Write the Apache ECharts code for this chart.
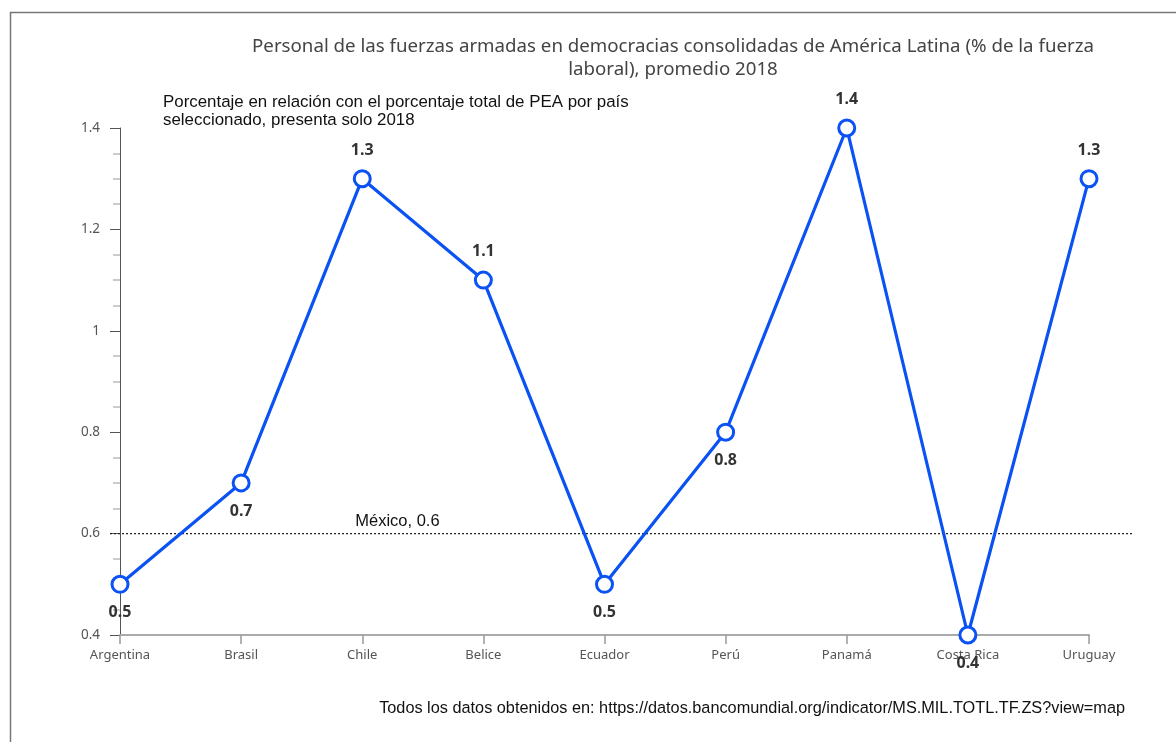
<!DOCTYPE html>
<html>
<head>
<meta charset="utf-8">
<script src="https://cdn.jsdelivr.net/npm/echarts@6/dist/echarts.min.js"></script>
<style>
  html, body { margin: 0; padding: 0; background: #fff; }
  #chart { width: 1176px; height: 742px; }
</style>
</head>
<body>
<div id="chart"></div>
<script>
// Personal militar como % de la fuerza laboral, 2018
const countries = ['Argentina', 'Brasil', 'Chile', 'Belice', 'Ecuador', 'Perú', 'Panamá', 'Costa Rica', 'Uruguay'];
const values = [0.5, 0.7, 1.3, 1.1, 0.5, 0.8, 1.4, 0.4, 1.3];
const labelSide = ['bottom', 'bottom', 'top', 'top', 'bottom', 'bottom', 'top', 'bottom', 'top'];
const mexicoValue = 0.6;
const mexicoLabel = 'México, 0.6';
const yTicks = { min: 0.4, max: 1.4, step: 0.2 };

const titleText = 'Personal de las fuerzas armadas en democracias consolidadas de América Latina (% de la fuerza\nlaboral), promedio 2018';
const noteText = 'Porcentaje en relación con el porcentaje total de PEA por país\nseleccionado, presenta solo 2018';
const sourceText = 'Todos los datos obtenidos en: https://datos.bancomundial.org/indicator/MS.MIL.TOTL.TF.ZS?view=map';

const blue = '#0a52f4';
const axisFont = '"Noto Sans", "Open Sans", sans-serif';
const plainFont = '"Liberation Sans", Arial, sans-serif';

const chart = echarts.init(document.getElementById('chart'), null, { renderer: 'canvas' });

const option = {
  backgroundColor: '#fff',
  animation: false,
  title: [
    {
      text: titleText,
      left: 673,
      top: 35,
      padding: 0,
      textAlign: 'center',
      textStyle: {
        fontFamily: axisFont,
        fontSize: 18.7,
        fontWeight: 'normal',
        color: '#444',
        lineHeight: 23,
        align: 'center'
      }
    },
    {
      text: noteText,
      left: 163,
      top: 93,
      padding: 0,
      textStyle: {
        fontFamily: plainFont,
        fontSize: 16.9,
        fontWeight: 'normal',
        color: '#111',
        lineHeight: 18
      }
    },
    {
      text: sourceText,
      right: 51,
      top: 701,
      padding: 0,
      textStyle: {
        fontFamily: plainFont,
        fontSize: 16.3,
        fontWeight: 'normal',
        color: '#111'
      }
    }
  ],
  grid: { left: 120, right: 87, top: 128, bottom: 107, containLabel: false },
  xAxis: {
    type: 'category',
    data: countries,
    boundaryGap: false,
    axisLine: { lineStyle: { color: '#aaa', width: 2 } },
    axisTick: { show: true, length: 9, alignWithLabel: true, lineStyle: { color: '#999', width: 1.5 } },
    axisLabel: { fontFamily: axisFont, fontSize: 13, color: '#555', margin: 14 },
    splitLine: { show: false }
  },
  yAxis: {
    type: 'value',
    min: yTicks.min,
    max: yTicks.max,
    interval: yTicks.step,
    axisLine: { show: true, lineStyle: { color: '#555', width: 1 } },
    axisTick: { show: true, length: 10, lineStyle: { color: '#555' } },
    minorTick: { show: true, splitNumber: 4, length: 7, lineStyle: { color: '#bbb', width: 1.5 } },
    axisLabel: { fontFamily: axisFont, fontSize: 13.5, color: '#555', margin: 20 },
    splitLine: { show: false }
  },
  series: [
    {
      type: 'line',
      data: values.map((v, i) => ({
        value: v,
        label: { position: labelSide[i] }
      })),
      lineStyle: { color: blue, width: 3.2 },
      symbol: 'circle',
      symbolSize: 16,
      itemStyle: { color: '#fff', borderColor: blue, borderWidth: 3 },
      label: {
        show: true,
        distance: 11,
        fontFamily: axisFont,
        fontSize: 16,
        fontWeight: 'bold',
        color: '#333'
      },
      z: 3
    }
  ]
};

chart.setOption(option);

// Línea de referencia de México, algo más ancha que el área de trazado
const rect = chart.getModel().getComponent('grid').coordinateSystem.getRect();
const yMex = chart.convertToPixel({ yAxisIndex: 0 }, mexicoValue);
const xChile = chart.convertToPixel({ xAxisIndex: 0 }, countries[2]);

chart.setOption({
  graphic: [
    {
      type: 'rect',
      shape: { x: 10.5, y: 12.5, width: 1400, height: 1000 },
      style: { fill: null, stroke: '#777', lineWidth: 1.5 },
      silent: true
    },
    {
      type: 'line',
      shape: { x1: rect.x - 10, y1: yMex, x2: rect.x + rect.width + 44, y2: yMex },
      style: { stroke: '#222', lineWidth: 1.2, lineDash: [2, 2] },
      z: 1,
      silent: true
    },
    {
      type: 'text',
      x: xChile - 7,
      y: yMex - 4,
      style: {
        text: mexicoLabel,
        fontFamily: plainFont,
        fontSize: 16.5,
        fill: '#111',
        textVerticalAlign: 'bottom'
      },
      z: 1,
      silent: true
    }
  ]
});
</script>
</body>
</html>
